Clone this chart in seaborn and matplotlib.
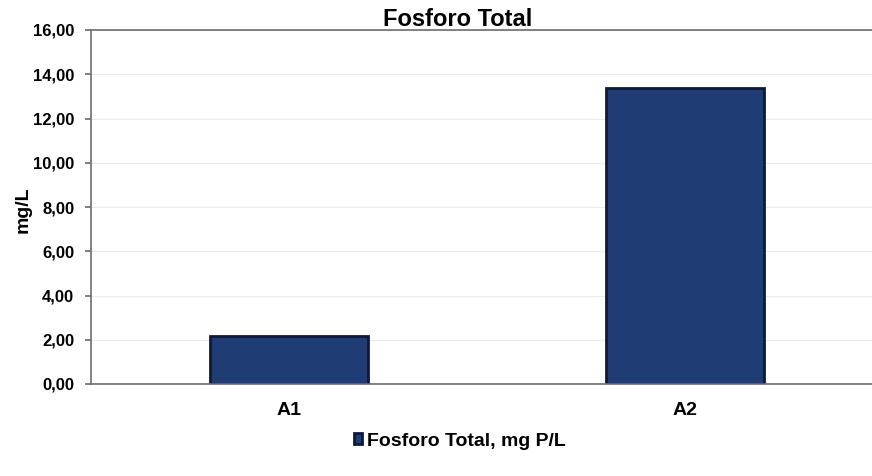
import matplotlib
matplotlib.use("Agg")
import matplotlib.pyplot as plt
import seaborn as sns
import pandas as pd
from matplotlib.ticker import FuncFormatter, MultipleLocator

categories = ["A1", "A2"]
values = [2.15, 13.40]
series_name = "Fosforo Total, mg P/L"

df = pd.DataFrame({"Punto": categories, "Valor": values, "Serie": series_name})

sns.set_theme(style="white")
plt.rcParams["font.family"] = ["Liberation Sans", "DejaVu Sans"]
plt.rcParams["text.color"] = "black"
plt.rcParams["xtick.color"] = "black"
plt.rcParams["ytick.color"] = "black"

fig = plt.figure(figsize=(8.72, 4.76), dpi=100)
# plot area runs past the right edge, as in the cropped reference
ax = fig.add_axes([91 / 872, 1 - 384 / 476, 792 / 872, 354 / 476])

sns.barplot(data=df, x="Punto", y="Valor", hue="Serie", ax=ax,
            palette=["#1f3d74"], saturation=1, width=0.4,
            edgecolor="#0e1a3c", linewidth=2, legend=True)

ax.set_ylim(0, 16)
ax.yaxis.set_major_locator(MultipleLocator(2))
ax.yaxis.set_major_formatter(FuncFormatter(lambda v, p: f"{v:.2f}".replace(".", ",")))
ax.grid(axis="y", color="#ebebeb", linewidth=0.8)
ax.set_axisbelow(True)

for side in ["top", "left", "bottom"]:
    ax.spines[side].set_color("#6e6e6e")
    ax.spines[side].set_linewidth(1.2)
ax.spines["right"].set_visible(False)

ax.tick_params(axis="y", labelsize=12, length=4, color="#6e6e6e", left=True, pad=8)
ax.tick_params(axis="x", labelsize=14, length=0, pad=13)
for lbl in ax.get_yticklabels() + ax.get_xticklabels():
    lbl.set_fontweight("bold")

ax.set_xlabel("")
ax.set_ylabel("")
fig.text(23 / 872, 1 - 210 / 476, "mg/L", rotation=90, ha="center", va="center",
         fontsize=14, fontweight="bold")
fig.text(458 / 872, 1 - 19 / 476, "Fosforo Total", ha="center", va="center",
         fontsize=17, fontweight="bold")

leg = ax.legend(loc="center", bbox_to_anchor=(460 / 872, 1 - 441 / 476),
                bbox_transform=fig.transFigure, frameon=False, fontsize=14,
                handlelength=0.4, handleheight=0.45, handletextpad=0.25)
for t in leg.get_texts():
    t.set_fontweight("bold")

fig.savefig("out.png", dpi=100)
